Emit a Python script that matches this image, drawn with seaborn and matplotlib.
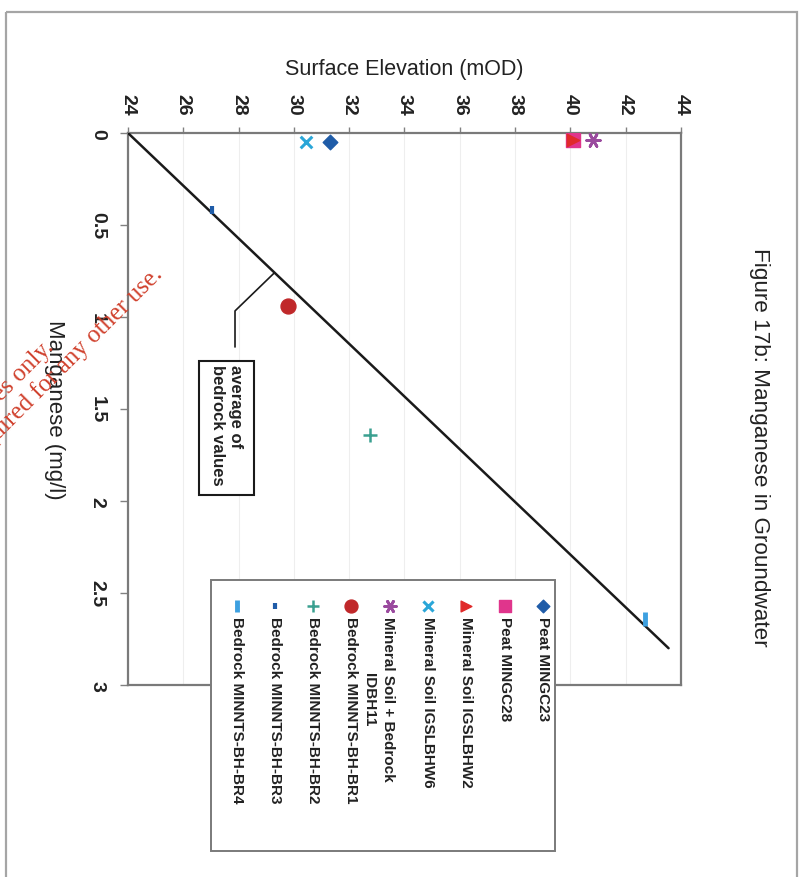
import numpy as np
import pandas as pd
import seaborn as sns
import matplotlib.pyplot as plt
from matplotlib.patches import Rectangle

# ---- data -------------------------------------------------------------
series = [
    "Peat MINGC23",
    "Peat MINGC28",
    "Mineral Soil IGSLBHW2",
    "Mineral Soil IGSLBHW6",
    "Mineral Soil + Bedrock\nIDBH11",
    "Bedrock MINNTS-BH-BR1",
    "Bedrock MINNTS-BH-BR2",
    "Bedrock MINNTS-BH-BR3",
    "Bedrock MINNTS-BH-BR4",
]
elevation = [31.3, 40.1, 40.1, 30.45, 40.8, 29.8, 32.75, 27.05, 42.7]   # mOD
manganese = [0.05, 0.04, 0.04, 0.05, 0.04, 0.94, 1.64, 0.42, 2.64]     # mg/l

# average-of-bedrock line
trend_elev = [24.0, 43.55]
trend_mn = [0.0, 2.80]

elev_ticks = [24, 26, 28, 30, 32, 34, 36, 38, 40, 42, 44]
mn_ticks = [0, 0.5, 1, 1.5, 2, 2.5, 3]
mn_ticklabels = ["0", "0.5", "1", "1.5", "2", "2.5", "3"]

title = "Figure 17b: Manganese in Groundwater"
elev_label = "Surface Elevation (mOD)"
mn_label = "Manganese (mg/l)"
callout = "average of\nbedrock values"
watermark = "For inspection purposes only.\nConsent of copyright owner required for any other use."

# ---- styles -----------------------------------------------------------
colors = ["#1f5ca8", "#e0358c", "#e02a2a", "#2aa6d8", "#9a4a9e",
          "#c0282a", "#3aa090", "#1f5ca8", "#3da0e0"]
markers = ["D", "s", ">", "x", (6, 2, 30), "o", "+", "|", "|"]
sizes = [55, 95, 80, 70, 95, 115, 95, 30, 90]
widths = [1, 1, 1, 2.2, 2.0, 1, 1.8, 3.0, 3.5]

sns.set_style("white")
plt.rcParams["font.family"] = ["Liberation Sans", "DejaVu Sans"]

W, H = 803, 878
fig = plt.figure(figsize=(W / 100, H / 100), dpi=100)
fig.patch.set_facecolor("white")

# plot area in pixel terms: left 128, right 681, top 134, bottom 686
ax = fig.add_axes([128 / W, 1 - 686 / H, (681 - 128) / W, (686 - 134) / H])

df = pd.DataFrame({"series": series, "elevation": elevation, "manganese": manganese})

sns.lineplot(x=trend_elev, y=trend_mn, ax=ax, color="#1a1a1a", lw=1.8, zorder=3)

for i, row in df.iterrows():
    kw = dict(color=colors[i], marker=markers[i], s=sizes[i], linewidth=widths[i], zorder=4)
    mk = plt.matplotlib.markers.MarkerStyle(markers[i])
    if mk.is_filled():
        kw["edgecolor"] = colors[i]
    sns.scatterplot(x=[row.elevation], y=[row.manganese], ax=ax, legend=False, **kw)

ax.set_xlim(24, 44)
ax.set_ylim(3, 0)
ax.set_xlabel("")
ax.set_ylabel("")
ax.xaxis.tick_top()
ax.set_xticks(elev_ticks)
ax.set_xticklabels([str(t) for t in elev_ticks])
ax.set_yticks(mn_ticks)
ax.set_yticklabels(mn_ticklabels)
ax.tick_params(axis="x", which="both", top=True, bottom=False, direction="out",
               length=4, width=1, color="#808080", pad=9, labelsize=14,
               labelcolor="#222222", labelrotation=-90)
ax.tick_params(axis="y", which="both", left=True, direction="out", length=6,
               width=1, color="#808080", pad=10, labelsize=14,
               labelcolor="#222222", labelrotation=-90)
for lbl in ax.get_yticklabels():
    lbl.set_va("center")
for lbl in ax.get_xticklabels() + ax.get_yticklabels():
    lbl.set_fontweight("bold")

ax.grid(axis="x", color="#eeeeee", lw=0.8)
ax.set_axisbelow(True)
for sp in ax.spines.values():
    sp.set_visible(True)
    sp.set_color("#7a7a7a")
    sp.set_linewidth(1.6)

# callout pointing at the bedrock line
anchor_e = 29.3
anchor_m = float(np.interp(anchor_e, trend_elev, trend_mn))
ax.plot([anchor_e, 27.87, 27.87], [anchor_m, 0.967, 1.163], color="#1a1a1a", lw=1.2, zorder=3)
ax.add_patch(Rectangle((26.57, 1.239), 1.99, 0.728, facecolor="white",
                       edgecolor="#1a1a1a", lw=1.5, zorder=5))
ax.text(27.56, 1.255, callout, rotation=-90, ha="center", va="top",
        multialignment="left", fontsize=12, fontweight="bold", color="#222222",
        linespacing=1.25, zorder=6)

# ---- overlay in pixel coordinates: labels, legend, frame -------------
ov = fig.add_axes([0, 0, 1, 1])
ov.set_xlim(0, W)
ov.set_ylim(H, 0)
ov.axis("off")
ov.set_zorder(ax.get_zorder() + 1)

ov.add_patch(Rectangle((6, 13), 791, 890, fill=False, edgecolor="#a5a5a5", lw=1.6))

ov.text(404, 70, elev_label, ha="center", va="center", fontsize=15.5, color="#222222")
ov.text(54, 410, mn_label, rotation=-90, ha="center", va="center", fontsize=16, color="#222222")
ov.text(760, 447, title, rotation=-90, ha="center", va="center", fontsize=16.2, color="#222222")

# legend
ov.add_patch(Rectangle((211, 581), 344, 271, facecolor="white", edgecolor="#7a7a7a", lw=1.4))
for i, name in enumerate(series):
    xc = 543 - i * 38.3
    kw = dict(color=colors[i], marker=markers[i], s=sizes[i] * 0.75, linewidth=widths[i],
              zorder=5)
    mk = plt.matplotlib.markers.MarkerStyle(markers[i])
    if mk.is_filled():
        kw["edgecolor"] = colors[i]
    sns.scatterplot(x=[xc], y=[607], ax=ov, legend=False, **kw)
    if "\n" in name:
        xc = xc - 11.5
    ov.text(xc, 617, name, rotation=-90, ha="center", va="top", fontsize=11,
            fontweight="bold", color="#222222", linespacing=1.45, zorder=6)
ov.set_xlim(0, W)
ov.set_ylim(H, 0)

# watermark
fig.text(-45 / W, 1 - 457 / H, watermark, rotation=45, rotation_mode="anchor",
         ha="center", va="center", multialignment="center", fontsize=18,
         family=["Liberation Serif", "DejaVu Serif"], color="#d0402c",
         linespacing=1.1, zorder=10)

fig.savefig("out.png", dpi=100)
